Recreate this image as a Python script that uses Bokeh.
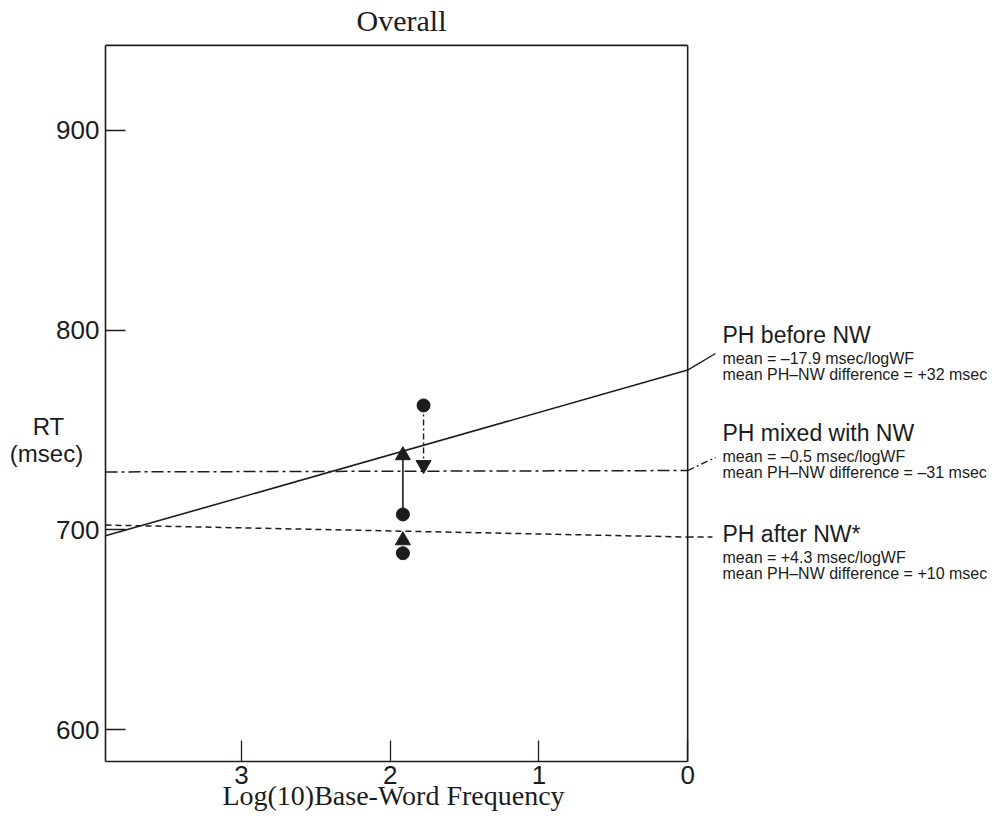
from bokeh.plotting import figure
from bokeh.models import Range1d, FixedTicker, ColumnDataSource, LinearAxis
from bokeh.embed import file_html
from bokeh.resources import INLINE

# ---------------- data ----------------
line_freq = [3.915, 0.0]                 # log10 base-word frequency at line ends
rt_before_nw = [697.0, 780.0]            # PH before NW (solid)
rt_mixed_nw = [729.0, 729.7]             # PH mixed with NW (dash-dot)
rt_after_nw = [702.4, 696.4]             # PH after NW (dashed)

dot_freq = [1.915, 1.915, 1.776]
dot_rt = [707.7, 688.3, 762.3]

head_freq = [1.915, 1.776, 1.915]
head_rt = [737.3, 732.5, 694.7]
head_marker = ["triangle", "inverted_triangle", "triangle"]

x_ticks = [3, 2, 1, 0]
y_ticks = [600, 700, 800, 900]

label_titles = ["PH before NW", "PH mixed with NW", "PH after NW*"]
label_slopes = ["mean = \u201317.9 msec/logWF", "mean = \u20130.5 msec/logWF", "mean = +4.3 msec/logWF"]
label_diffs = ["mean PH\u2013NW difference = +32 msec",
               "mean PH\u2013NW difference = \u201331 msec",
               "mean PH\u2013NW difference = +10 msec"]

# ---------------- layout ----------------
W, H = 987, 813
SX = 148.7      # px per log unit
SY = 1.997      # px per msec
X_LEFT = 3.915  # value at the left edge of the box (px 105)
Y_BOTTOM = 584.0  # value at the bottom edge of the box (px 761)
Y_TOP_BOX = 942.6
x0_val = X_LEFT + 105 / SX
x1_val = X_LEFT - (W - 105) / SX
ytop_val = Y_BOTTOM + 761 / SY
ybot_val = Y_BOTTOM - (H - 761) / SY

def px_x(px):
    return x0_val - px / SX

def px_y(py):
    return ytop_val - py / SY

INK = "#1c1c1c"
SANS = "Liberation Sans"
SERIF = "Liberation Serif"

p = figure(width=W, height=H, output_backend="svg", toolbar_location=None,
           x_range=Range1d(x0_val, x1_val), y_range=Range1d(ybot_val, ytop_val),
           x_axis_location=None, y_axis_location=None,
           min_border_left=0, min_border_right=0, min_border_top=0, min_border_bottom=0)
p.outline_line_color = None
p.background_fill_color = "white"
p.border_fill_color = "white"
p.grid.visible = False

xax = LinearAxis(fixed_location=Y_BOTTOM, bounds=(0, X_LEFT), ticker=FixedTicker(ticks=x_ticks))
yax = LinearAxis(fixed_location=X_LEFT, bounds=(Y_BOTTOM, Y_TOP_BOX), ticker=FixedTicker(ticks=y_ticks))
for ax in (xax, yax):
    ax.axis_line_color = INK
    ax.axis_line_width = 1.6
    ax.major_tick_line_color = INK
    ax.major_tick_line_width = 1.3
    ax.major_tick_out = 0
    ax.minor_tick_line_color = None
    ax.major_label_text_font = SANS
    ax.major_label_text_font_size = "26px"
    ax.major_label_text_color = INK
xax.major_tick_in = 21
xax.major_label_standoff = 4
yax.major_tick_in = 20
yax.major_label_standoff = 6
p.add_layout(xax, "below")
p.add_layout(yax, "left")

# top and right sides of the box
p.segment(x0=[X_LEFT, 0], y0=[Y_TOP_BOX, Y_BOTTOM], x1=[0, 0], y1=[Y_TOP_BOX, Y_TOP_BOX],
          line_color=INK, line_width=1.6)

# regression lines
p.line(line_freq, rt_before_nw, line_color=INK, line_width=1.6)
p.line(line_freq, rt_mixed_nw, line_color=INK, line_width=1.5, line_dash="12 4 3 4")
p.line(line_freq, rt_after_nw, line_color=INK, line_width=1.5, line_dash="6 4")

# leader lines to labels
lead_x1 = px_x(715)
p.line([0, lead_x1], [rt_before_nw[1], px_y(353)], line_color=INK, line_width=1.4)
p.line([0, lead_x1], [rt_mixed_nw[1], px_y(457)], line_color=INK, line_width=1.4, line_dash="7 3 2 3")
p.line([0, px_x(712)], [rt_after_nw[1], rt_after_nw[1]], line_color=INK, line_width=1.4, line_dash="6 4")

# difference connectors
p.line([dot_freq[0], head_freq[0]], [dot_rt[0], head_rt[0]], line_color=INK, line_width=1.6)
p.line([dot_freq[2], head_freq[1]], [dot_rt[2], head_rt[1]], line_color=INK, line_width=1.4,
       line_dash="6 3 2 3")

p.scatter(dot_freq, dot_rt, size=13, color=INK)
src = ColumnDataSource(dict(x=head_freq, y=head_rt, m=head_marker))
p.scatter("x", "y", source=src, marker="m", size=15, color=INK)

# right-hand labels
title_py = [334, 432, 533]
tx = px_x(722)
p.text(x=[tx] * 3, y=[px_y(v) for v in title_py], text=label_titles,
       text_font={"value": SANS}, text_font_size="23px", text_color=INK,
       text_baseline="middle", text_align="left")
p.text(x=[tx] * 3, y=[px_y(v + 24) for v in title_py], text=label_slopes,
       text_font={"value": SANS}, text_font_size="16px", text_color=INK,
       text_baseline="middle", text_align="left")
p.text(x=[tx] * 3, y=[px_y(v + 40) for v in title_py], text=label_diffs,
       text_font={"value": SANS}, text_font_size="16px", text_color=INK,
       text_baseline="middle", text_align="left")

# title, axis labels
p.text(x=[px_x(401)], y=[px_y(20)], text=["Overall"], text_font={"value": SERIF},
       text_font_size="30px", text_color=INK, text_baseline="middle", text_align="center")
p.text(x=[px_x(393)], y=[px_y(795)], text=["Log(10)Base-Word Frequency"], text_font={"value": SERIF},
       text_font_size="28px", text_color=INK, text_baseline="middle", text_align="center")
p.text(x=[px_x(48), px_x(46)], y=[px_y(426), px_y(453)], text=["RT", "(msec)"],
       text_font={"value": SANS}, text_font_size="24px", text_color=INK,
       text_baseline="middle", text_align="center")

open("out.html", "w").write(file_html(p, INLINE))
